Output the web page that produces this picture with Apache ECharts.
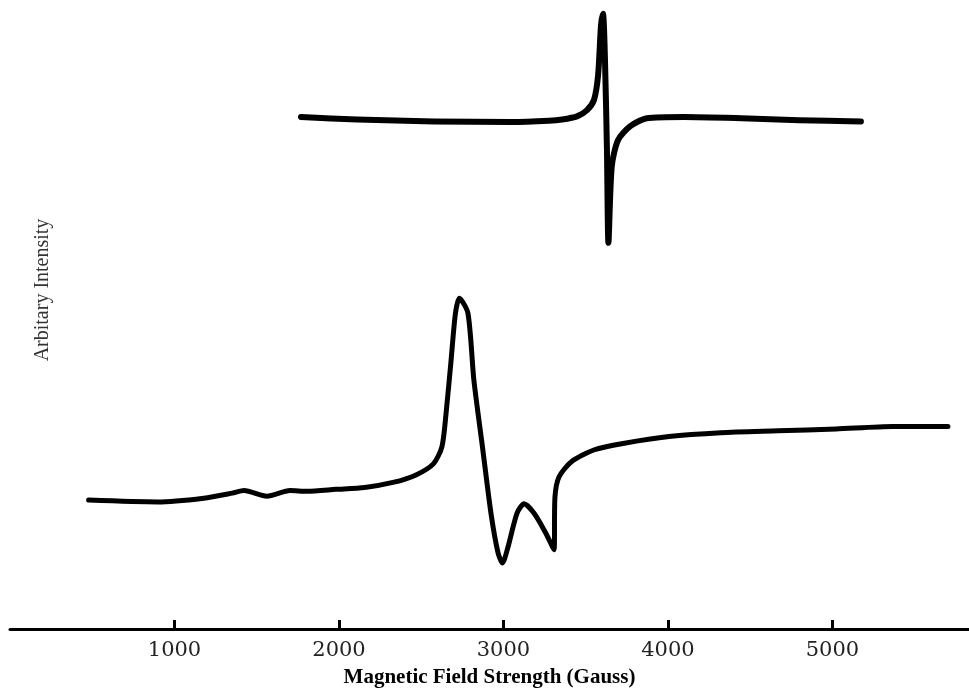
<!DOCTYPE html>
<html>
<head>
<meta charset="utf-8">
<script src="https://cdn.jsdelivr.net/npm/echarts@6/dist/echarts.min.js"></script>
<style>
html,body{margin:0;padding:0;background:#fff;}
#chart{width:969px;height:694px;}
</style>
</head>
<body>
<div id="chart"></div>
<script>
// Field values (Gauss) and intensity (arbitrary units)
var topField = [1769, 2109, 2578, 3046, 3277, 3356, 3447, 3508, 3550, 3575, 3593, 3605, 3617, 3629, 3638, 3658, 3696, 3769, 3871, 4097, 4447, 4797, 5173];
var topIntensity = [81.4, 81.0, 80.7, 80.6, 80.8, 81.0, 81.5, 82.5, 84.1, 88.0, 96.0, 97.8, 90.5, 76.2, 61.4, 73.5, 77.7, 79.9, 81.2, 81.4, 81.2, 80.9, 80.7];

var bottomField = [478, 898, 1178, 1352, 1423, 1562, 1702, 1806, 1982, 2156, 2328, 2468, 2575, 2626, 2651, 2680, 2708, 2732, 2784, 2820, 2872, 2924, 2967, 2994, 3027, 3082, 3125, 3186, 3256, 3307, 3313, 3338, 3413, 3553, 3727, 4006, 4322, 4669, 5021, 5368, 5702];
var bottomIntensity = [20.5, 20.2, 20.8, 21.6, 22.0, 21.1, 22.0, 21.9, 22.2, 22.5, 23.3, 24.5, 26.3, 29.0, 34.3, 42.3, 50.2, 52.6, 50.2, 39.6, 29.0, 18.4, 12.1, 10.5, 13.0, 18.4, 19.9, 18.4, 15.3, 12.6, 21.0, 24.2, 26.6, 28.5, 29.5, 30.6, 31.2, 31.5, 31.8, 32.2, 32.2];

var tickValues = [1000, 2000, 3000, 4000, 5000];
var tickLabels = ['1000', '2000', '3000', '4000', '5000'];

var xTitle = 'Magnetic Field Strength (Gauss)';
var yTitle = 'Arbitary Intensity';

function pairs(xs, ys) { return xs.map(function (x, i) { return [x, ys[i]]; }); }

var chart = echarts.init(document.getElementById('chart'), null, { renderer: 'canvas' });
chart.setOption({
  backgroundColor: '#ffffff',
  animation: false,
  grid: { left: 10, right: 0, top: 0, bottom: 65, containLabel: false, outerBoundsMode: 'none' },
  xAxis: {
    type: 'value', min: 0, max: 5830,
    axisLine: { show: true, onZero: false, lineStyle: { color: '#000', width: 3 } },
    axisTick: { show: true, inside: true, length: 9, customValues: tickValues, lineStyle: { color: '#000', width: 3 } },
    axisLabel: {
      show: true, margin: 11, customValues: tickValues,
      formatter: function (v) { var i = tickValues.indexOf(v); return i >= 0 ? tickLabels[i] : ''; },
      color: '#222', fontFamily: 'DejaVu Serif, serif', fontSize: 21
    },
    splitLine: { show: false },
    name: xTitle, nameLocation: 'middle', nameGap: 38,
    nameTextStyle: { color: '#000', fontFamily: 'Liberation Serif, serif', fontWeight: 'bold', fontSize: 21 }
  },
  yAxis: { type: 'value', min: 0, max: 100, show: false },
  graphic: [{
    type: 'text', x: 43, y: 290, rotation: Math.PI / 2,
    style: { text: yTitle, align: 'center', verticalAlign: 'middle', fill: '#333', font: '20px "Liberation Serif", serif' }
  }],
  series: [
    { type: 'line', data: pairs(topField, topIntensity), showSymbol: false, smooth: 0.25,
      lineStyle: { color: '#000', width: 6, cap: 'round', join: 'round' } },
    { type: 'line', data: pairs(bottomField, bottomIntensity), showSymbol: false, smooth: 0.25,
      lineStyle: { color: '#000', width: 5, cap: 'round', join: 'round' } }
  ]
});
</script>
</body>
</html>
